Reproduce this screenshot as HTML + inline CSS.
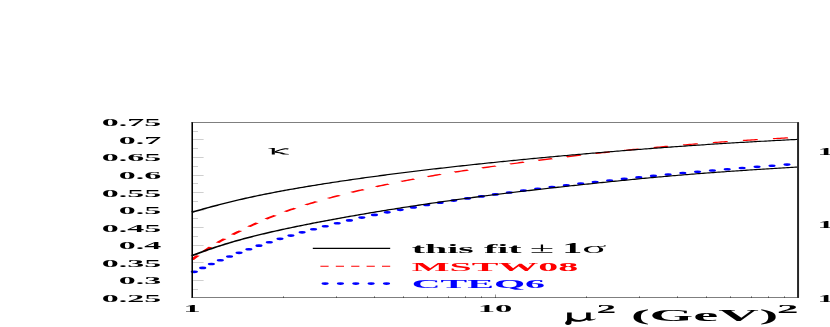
<!DOCTYPE html><html><head><meta charset="utf-8"><title>kappa</title><style>html,body{margin:0;padding:0;background:#fff}svg{display:block;will-change:transform}text{font-family:"Liberation Serif",serif;font-weight:bold}.n{font-weight:normal}</style></head><body>
<svg width="830" height="327" viewBox="0 0 830 327">
<rect width="830" height="327" fill="#fff"/>
<line x1="193.1" x2="198" y1="131.50" y2="131.50" stroke="#cfcfcf" stroke-width="1"/>
<line x1="193.1" x2="203.6" y1="139.50" y2="139.50" stroke="#cfcfcf" stroke-width="1"/>
<line x1="193.1" x2="198" y1="148.50" y2="148.50" stroke="#cfcfcf" stroke-width="1"/>
<line x1="193.1" x2="203.6" y1="157.50" y2="157.50" stroke="#cfcfcf" stroke-width="1"/>
<line x1="193.1" x2="198" y1="166.50" y2="166.50" stroke="#cfcfcf" stroke-width="1"/>
<line x1="193.1" x2="203.6" y1="175.50" y2="175.50" stroke="#cfcfcf" stroke-width="1"/>
<line x1="193.1" x2="198" y1="183.50" y2="183.50" stroke="#cfcfcf" stroke-width="1"/>
<line x1="193.1" x2="203.6" y1="192.50" y2="192.50" stroke="#cfcfcf" stroke-width="1"/>
<line x1="193.1" x2="198" y1="201.50" y2="201.50" stroke="#cfcfcf" stroke-width="1"/>
<line x1="193.1" x2="203.6" y1="210.50" y2="210.50" stroke="#cfcfcf" stroke-width="1"/>
<line x1="193.1" x2="198" y1="218.50" y2="218.50" stroke="#cfcfcf" stroke-width="1"/>
<line x1="193.1" x2="203.6" y1="227.50" y2="227.50" stroke="#cfcfcf" stroke-width="1"/>
<line x1="193.1" x2="198" y1="236.50" y2="236.50" stroke="#cfcfcf" stroke-width="1"/>
<line x1="193.1" x2="203.6" y1="245.50" y2="245.50" stroke="#cfcfcf" stroke-width="1"/>
<line x1="193.1" x2="198" y1="254.50" y2="254.50" stroke="#cfcfcf" stroke-width="1"/>
<line x1="193.1" x2="203.6" y1="262.50" y2="262.50" stroke="#cfcfcf" stroke-width="1"/>
<line x1="193.1" x2="198" y1="271.50" y2="271.50" stroke="#cfcfcf" stroke-width="1"/>
<line x1="193.1" x2="203.6" y1="280.50" y2="280.50" stroke="#cfcfcf" stroke-width="1"/>
<line x1="193.1" x2="198" y1="289.50" y2="289.50" stroke="#cfcfcf" stroke-width="1"/>
<line x1="283.50" x2="283.50" y1="296.10" y2="298" stroke="#000" stroke-opacity="0.42" stroke-width="1"/>
<line x1="336.50" x2="336.50" y1="296.10" y2="298" stroke="#000" stroke-opacity="0.42" stroke-width="1"/>
<line x1="374.50" x2="374.50" y1="296.10" y2="298" stroke="#000" stroke-opacity="0.42" stroke-width="1"/>
<line x1="403.50" x2="403.50" y1="296.10" y2="298" stroke="#000" stroke-opacity="0.42" stroke-width="1"/>
<line x1="427.50" x2="427.50" y1="296.10" y2="298" stroke="#000" stroke-opacity="0.42" stroke-width="1"/>
<line x1="448.50" x2="448.50" y1="296.10" y2="298" stroke="#000" stroke-opacity="0.42" stroke-width="1"/>
<line x1="465.50" x2="465.50" y1="296.10" y2="298" stroke="#000" stroke-opacity="0.42" stroke-width="1"/>
<line x1="481.50" x2="481.50" y1="296.10" y2="298" stroke="#000" stroke-opacity="0.42" stroke-width="1"/>
<line x1="495.50" x2="495.50" y1="294.50" y2="298" stroke="#000" stroke-opacity="0.42" stroke-width="1"/>
<line x1="586.50" x2="586.50" y1="296.10" y2="298" stroke="#000" stroke-opacity="0.42" stroke-width="1"/>
<line x1="639.50" x2="639.50" y1="296.10" y2="298" stroke="#000" stroke-opacity="0.42" stroke-width="1"/>
<line x1="677.50" x2="677.50" y1="296.10" y2="298" stroke="#000" stroke-opacity="0.42" stroke-width="1"/>
<line x1="706.50" x2="706.50" y1="296.10" y2="298" stroke="#000" stroke-opacity="0.42" stroke-width="1"/>
<line x1="730.50" x2="730.50" y1="296.10" y2="298" stroke="#000" stroke-opacity="0.42" stroke-width="1"/>
<line x1="751.50" x2="751.50" y1="296.10" y2="298" stroke="#000" stroke-opacity="0.42" stroke-width="1"/>
<line x1="768.50" x2="768.50" y1="296.10" y2="298" stroke="#000" stroke-opacity="0.42" stroke-width="1"/>
<line x1="784.50" x2="784.50" y1="296.10" y2="298" stroke="#000" stroke-opacity="0.42" stroke-width="1"/>
<ellipse cx="194.30" cy="271.83" rx="3.6" ry="1.32" fill="#00f"/>
<ellipse cx="202.70" cy="267.91" rx="3.6" ry="1.32" fill="#00f"/>
<ellipse cx="211.37" cy="264.05" rx="3.6" ry="1.32" fill="#00f"/>
<ellipse cx="220.32" cy="260.25" rx="3.6" ry="1.32" fill="#00f"/>
<ellipse cx="229.55" cy="256.51" rx="3.6" ry="1.32" fill="#00f"/>
<ellipse cx="239.07" cy="252.83" rx="3.6" ry="1.32" fill="#00f"/>
<ellipse cx="248.87" cy="249.23" rx="3.6" ry="1.32" fill="#00f"/>
<ellipse cx="258.96" cy="245.69" rx="3.6" ry="1.32" fill="#00f"/>
<ellipse cx="269.33" cy="242.24" rx="3.6" ry="1.32" fill="#00f"/>
<ellipse cx="279.98" cy="238.86" rx="3.6" ry="1.32" fill="#00f"/>
<ellipse cx="290.91" cy="235.57" rx="3.6" ry="1.32" fill="#00f"/>
<ellipse cx="302.11" cy="232.36" rx="3.6" ry="1.32" fill="#00f"/>
<ellipse cx="313.57" cy="229.24" rx="3.6" ry="1.32" fill="#00f"/>
<ellipse cx="325.28" cy="226.20" rx="3.6" ry="1.32" fill="#00f"/>
<ellipse cx="337.23" cy="223.25" rx="3.6" ry="1.32" fill="#00f"/>
<ellipse cx="349.42" cy="220.39" rx="3.6" ry="1.32" fill="#00f"/>
<ellipse cx="361.83" cy="217.62" rx="3.6" ry="1.32" fill="#00f"/>
<ellipse cx="374.44" cy="214.93" rx="3.6" ry="1.32" fill="#00f"/>
<ellipse cx="387.24" cy="212.33" rx="3.6" ry="1.32" fill="#00f"/>
<ellipse cx="400.24" cy="209.82" rx="3.6" ry="1.32" fill="#00f"/>
<ellipse cx="413.40" cy="207.39" rx="3.6" ry="1.32" fill="#00f"/>
<ellipse cx="426.72" cy="205.04" rx="3.6" ry="1.32" fill="#00f"/>
<ellipse cx="440.18" cy="202.76" rx="3.6" ry="1.32" fill="#00f"/>
<ellipse cx="453.78" cy="200.57" rx="3.6" ry="1.32" fill="#00f"/>
<ellipse cx="467.51" cy="198.44" rx="3.6" ry="1.32" fill="#00f"/>
<ellipse cx="481.35" cy="196.39" rx="3.6" ry="1.32" fill="#00f"/>
<ellipse cx="495.30" cy="194.40" rx="3.6" ry="1.32" fill="#00f"/>
<ellipse cx="509.34" cy="192.47" rx="3.6" ry="1.32" fill="#00f"/>
<ellipse cx="523.47" cy="190.60" rx="3.6" ry="1.32" fill="#00f"/>
<ellipse cx="537.68" cy="188.79" rx="3.6" ry="1.32" fill="#00f"/>
<ellipse cx="551.95" cy="187.03" rx="3.6" ry="1.32" fill="#00f"/>
<ellipse cx="566.30" cy="185.32" rx="3.6" ry="1.32" fill="#00f"/>
<ellipse cx="580.70" cy="183.65" rx="3.6" ry="1.32" fill="#00f"/>
<ellipse cx="595.15" cy="182.03" rx="3.6" ry="1.32" fill="#00f"/>
<ellipse cx="609.65" cy="180.45" rx="3.6" ry="1.32" fill="#00f"/>
<ellipse cx="624.20" cy="178.90" rx="3.6" ry="1.32" fill="#00f"/>
<ellipse cx="638.79" cy="177.40" rx="3.6" ry="1.32" fill="#00f"/>
<ellipse cx="653.42" cy="175.93" rx="3.6" ry="1.32" fill="#00f"/>
<ellipse cx="668.10" cy="174.50" rx="3.6" ry="1.32" fill="#00f"/>
<ellipse cx="682.81" cy="173.11" rx="3.6" ry="1.32" fill="#00f"/>
<ellipse cx="697.57" cy="171.76" rx="3.6" ry="1.32" fill="#00f"/>
<ellipse cx="712.37" cy="170.46" rx="3.6" ry="1.32" fill="#00f"/>
<ellipse cx="727.22" cy="169.20" rx="3.6" ry="1.32" fill="#00f"/>
<ellipse cx="742.12" cy="168.00" rx="3.6" ry="1.32" fill="#00f"/>
<ellipse cx="757.05" cy="166.85" rx="3.6" ry="1.32" fill="#00f"/>
<ellipse cx="772.01" cy="165.72" rx="3.6" ry="1.32" fill="#00f"/>
<ellipse cx="786.98" cy="164.60" rx="3.6" ry="1.32" fill="#00f"/>
<ellipse cx="325.10" cy="283.6" rx="3.6" ry="1.32" fill="#00f"/>
<ellipse cx="340.45" cy="283.6" rx="3.6" ry="1.32" fill="#00f"/>
<ellipse cx="355.80" cy="283.6" rx="3.6" ry="1.32" fill="#00f"/>
<ellipse cx="371.15" cy="283.6" rx="3.6" ry="1.32" fill="#00f"/>
<ellipse cx="386.50" cy="283.6" rx="3.6" ry="1.32" fill="#00f"/>
<clipPath id="cr"><rect x="191.6" y="100" width="620" height="220"/></clipPath><g clip-path="url(#cr)"><g transform="scale(3.3,1)" fill="none"><path d="M58.182 259.685 L58.788 258.253 L59.394 256.838 L60.000 255.437 L60.606 254.048 L61.212 252.672 L61.818 251.310 L62.424 249.966 L63.030 248.644 L63.636 247.346 L64.242 246.077 L64.848 244.839 L65.455 243.632 L66.061 242.457 L66.667 241.312 L67.273 240.195 L67.879 239.103 L68.485 238.033 L69.091 236.983 L69.697 235.949 L70.303 234.930 L70.909 233.922 L71.515 232.925 L72.121 231.937 L72.727 230.957 L73.333 229.985 L73.939 229.020 L74.545 228.063 L75.152 227.114 L75.758 226.173 L76.364 225.242 L76.970 224.320 L77.576 223.409 L78.182 222.509 L78.788 221.621 L79.394 220.746 L80.000 219.884 L80.606 219.036 L81.212 218.202 L81.818 217.383 L82.424 216.578 L83.030 215.788 L83.636 215.012 L84.242 214.249 L84.848 213.501 L85.455 212.765 L86.061 212.043 L86.667 211.332 L87.273 210.633 L87.879 209.945 L88.485 209.268 L89.091 208.600 L89.697 207.942 L90.303 207.294 L90.909 206.654 L91.515 206.022 L92.121 205.398 L92.727 204.782 L93.333 204.173 L93.939 203.571 L94.545 202.976 L95.152 202.388 L95.758 201.806 L96.364 201.230 L96.970 200.660 L97.576 200.096 L98.182 199.538 L98.788 198.986 L99.394 198.439 L100.000 197.897 L100.606 197.360 L101.212 196.829 L101.818 196.303 L102.424 195.781 L103.030 195.265 L103.636 194.753 L104.242 194.246 L104.848 193.744 L105.455 193.246 L106.061 192.753 L106.667 192.264 L107.273 191.780 L107.879 191.299 L108.485 190.823 L109.091 190.352 L109.697 189.884 L110.303 189.421 L110.909 188.961 L111.515 188.506 L112.121 188.054 L112.727 187.607 L113.333 187.163 L113.939 186.723 L114.545 186.287 L115.152 185.855 L115.758 185.427 L116.364 185.002 L116.970 184.581 L117.576 184.164 L118.182 183.750 L118.788 183.340 L119.394 182.934 L120.000 182.531 L120.606 182.131 L121.212 181.735 L121.818 181.342 L122.424 180.953 L123.030 180.567 L123.636 180.185 L124.242 179.805 L124.848 179.429 L125.455 179.057 L126.061 178.687 L126.667 178.320 L127.273 177.957 L127.879 177.596 L128.485 177.239 L129.091 176.885 L129.697 176.533 L130.303 176.184 L130.909 175.838 L131.515 175.495 L132.121 175.155 L132.727 174.817 L133.333 174.482 L133.939 174.149 L134.545 173.819 L135.152 173.492 L135.758 173.167 L136.364 172.844 L136.970 172.523 L137.576 172.205 L138.182 171.889 L138.788 171.575 L139.394 171.263 L140.000 170.954 L140.606 170.646 L141.212 170.340 L141.818 170.036 L142.424 169.734 L143.030 169.434 L143.636 169.136 L144.242 168.839 L144.848 168.544 L145.455 168.251 L146.061 167.959 L146.667 167.669 L147.273 167.381 L147.879 167.094 L148.485 166.808 L149.091 166.524 L149.697 166.242 L150.303 165.960 L150.909 165.681 L151.515 165.402 L152.121 165.125 L152.727 164.849 L153.333 164.574 L153.939 164.301 L154.545 164.029 L155.152 163.758 L155.758 163.488 L156.364 163.220 L156.970 162.952 L157.576 162.686 L158.182 162.421 L158.788 162.158 L159.394 161.895 L160.000 161.633 L160.606 161.373 L161.212 161.114 L161.818 160.856 L162.424 160.599 L163.030 160.343 L163.636 160.089 L164.242 159.835 L164.848 159.583 L165.455 159.332 L166.061 159.082 L166.667 158.833 L167.273 158.585 L167.879 158.338 L168.485 158.093 L169.091 157.849 L169.697 157.606 L170.303 157.364 L170.909 157.123 L171.515 156.883 L172.121 156.645 L172.727 156.407 L173.333 156.171 L173.939 155.936 L174.545 155.703 L175.152 155.470 L175.758 155.239 L176.364 155.008 L176.970 154.780 L177.576 154.552 L178.182 154.325 L178.788 154.100 L179.394 153.876 L180.000 153.653 L180.606 153.431 L181.212 153.211 L181.818 152.991 L182.424 152.773 L183.030 152.557 L183.636 152.341 L184.242 152.127 L184.848 151.914 L185.455 151.702 L186.061 151.491 L186.667 151.282 L187.273 151.074 L187.879 150.867 L188.485 150.661 L189.091 150.456 L189.697 150.253 L190.303 150.051 L190.909 149.850 L191.515 149.651 L192.121 149.453 L192.727 149.256 L193.333 149.060 L193.939 148.865 L194.545 148.672 L195.152 148.480 L195.758 148.289 L196.364 148.099 L196.970 147.911 L197.576 147.724 L198.182 147.538 L198.788 147.353 L199.394 147.169 L200.000 146.987 L200.606 146.806 L201.212 146.626 L201.818 146.448 L202.424 146.271 L203.030 146.094 L203.636 145.920 L204.242 145.746 L204.848 145.574 L205.455 145.402 L206.061 145.232 L206.667 145.064 L207.273 144.896 L207.879 144.730 L208.485 144.565 L209.091 144.401 L209.697 144.238 L210.303 144.077 L210.909 143.917 L211.515 143.758 L212.121 143.600 L212.727 143.443 L213.333 143.288 L213.939 143.134 L214.545 142.981 L215.152 142.829 L215.758 142.679 L216.364 142.530 L216.970 142.382 L217.576 142.235 L218.182 142.089 L218.788 141.945 L219.394 141.802 L220.000 141.660 L220.606 141.519 L221.212 141.379 L221.818 141.241 L222.424 141.104 L223.030 140.968 L223.636 140.833 L224.242 140.700 L224.848 140.568 L225.455 140.436 L226.061 140.307 L226.667 140.178 L227.273 140.050 L227.879 139.924 L228.485 139.799 L229.091 139.675 L229.697 139.553 L230.303 139.431 L230.909 139.311 L231.515 139.192 L232.121 139.074 L232.727 138.958 L233.333 138.842 L233.939 138.728 L234.545 138.615 L235.152 138.503 L235.758 138.393 L236.364 138.283 L236.970 138.175 L237.576 138.068 L238.182 137.962 L238.788 137.858 L239.394 137.754" stroke="#f00" stroke-width="1.25" stroke-dasharray="4.6 4.718" stroke-dashoffset="0.02"/></g></g>
<g transform="scale(3.3,1)" fill="none">
<path d="M58.182 212.224 L58.796 211.637 L59.410 211.054 L60.024 210.475 L60.638 209.900 L61.253 209.329 L61.867 208.763 L62.481 208.200 L63.095 207.642 L63.709 207.088 L64.324 206.538 L64.938 205.994 L65.552 205.454 L66.166 204.920 L66.780 204.391 L67.394 203.868 L68.009 203.350 L68.623 202.838 L69.237 202.332 L69.851 201.832 L70.465 201.338 L71.079 200.850 L71.694 200.368 L72.308 199.892 L72.922 199.422 L73.536 198.958 L74.150 198.500 L74.764 198.047 L75.379 197.600 L75.993 197.159 L76.607 196.723 L77.221 196.292 L77.835 195.866 L78.449 195.445 L79.064 195.028 L79.678 194.616 L80.292 194.209 L80.906 193.806 L81.520 193.406 L82.134 193.011 L82.749 192.620 L83.363 192.232 L83.977 191.848 L84.591 191.468 L85.205 191.091 L85.819 190.717 L86.434 190.347 L87.048 189.979 L87.662 189.615 L88.276 189.254 L88.890 188.896 L89.504 188.540 L90.119 188.188 L90.733 187.838 L91.347 187.491 L91.961 187.146 L92.575 186.804 L93.189 186.465 L93.804 186.128 L94.418 185.794 L95.032 185.462 L95.646 185.133 L96.260 184.805 L96.874 184.481 L97.489 184.158 L98.103 183.838 L98.717 183.519 L99.331 183.203 L99.945 182.889 L100.559 182.578 L101.174 182.268 L101.788 181.960 L102.402 181.654 L103.016 181.351 L103.630 181.049 L104.244 180.749 L104.859 180.451 L105.473 180.155 L106.087 179.860 L106.701 179.568 L107.315 179.277 L107.929 178.988 L108.544 178.700 L109.158 178.415 L109.772 178.131 L110.386 177.848 L111.000 177.568 L111.614 177.288 L112.229 177.011 L112.843 176.735 L113.457 176.460 L114.071 176.187 L114.685 175.916 L115.299 175.646 L115.914 175.377 L116.528 175.110 L117.142 174.845 L117.756 174.580 L118.370 174.317 L118.984 174.056 L119.599 173.796 L120.213 173.537 L120.827 173.279 L121.441 173.023 L122.055 172.768 L122.670 172.514 L123.284 172.262 L123.898 172.011 L124.512 171.761 L125.126 171.512 L125.740 171.264 L126.355 171.018 L126.969 170.773 L127.583 170.529 L128.197 170.286 L128.811 170.044 L129.425 169.803 L130.040 169.564 L130.654 169.325 L131.268 169.088 L131.882 168.852 L132.496 168.616 L133.110 168.382 L133.725 168.149 L134.339 167.917 L134.953 167.686 L135.567 167.456 L136.181 167.227 L136.795 166.999 L137.410 166.772 L138.024 166.546 L138.638 166.321 L139.252 166.097 L139.866 165.873 L140.480 165.651 L141.095 165.430 L141.709 165.210 L142.323 164.990 L142.937 164.772 L143.551 164.554 L144.165 164.337 L144.780 164.122 L145.394 163.907 L146.008 163.693 L146.622 163.479 L147.236 163.267 L147.850 163.056 L148.465 162.845 L149.079 162.635 L149.693 162.427 L150.307 162.219 L150.921 162.011 L151.535 161.805 L152.150 161.600 L152.764 161.395 L153.378 161.191 L153.992 160.988 L154.606 160.786 L155.220 160.584 L155.835 160.383 L156.449 160.184 L157.063 159.984 L157.677 159.786 L158.291 159.589 L158.905 159.392 L159.520 159.196 L160.134 159.001 L160.748 158.806 L161.362 158.612 L161.976 158.419 L162.590 158.227 L163.205 158.036 L163.819 157.845 L164.433 157.655 L165.047 157.466 L165.661 157.277 L166.275 157.090 L166.890 156.903 L167.504 156.716 L168.118 156.531 L168.732 156.346 L169.346 156.162 L169.960 155.978 L170.575 155.795 L171.189 155.613 L171.803 155.432 L172.417 155.252 L173.031 155.072 L173.645 154.892 L174.260 154.714 L174.874 154.536 L175.488 154.359 L176.102 154.182 L176.716 154.007 L177.330 153.832 L177.945 153.657 L178.559 153.483 L179.173 153.310 L179.787 153.138 L180.401 152.966 L181.016 152.795 L181.630 152.625 L182.244 152.455 L182.858 152.286 L183.472 152.118 L184.086 151.950 L184.701 151.783 L185.315 151.617 L185.929 151.451 L186.543 151.286 L187.157 151.122 L187.771 150.958 L188.386 150.795 L189.000 150.633 L189.614 150.471 L190.228 150.310 L190.842 150.149 L191.456 149.989 L192.071 149.830 L192.685 149.672 L193.299 149.514 L193.913 149.357 L194.527 149.200 L195.141 149.044 L195.756 148.889 L196.370 148.734 L196.984 148.580 L197.598 148.427 L198.212 148.274 L198.826 148.122 L199.441 147.971 L200.055 147.820 L200.669 147.670 L201.283 147.521 L201.897 147.372 L202.511 147.224 L203.126 147.077 L203.740 146.931 L204.354 146.785 L204.968 146.640 L205.582 146.495 L206.196 146.351 L206.811 146.208 L207.425 146.066 L208.039 145.925 L208.653 145.784 L209.267 145.644 L209.881 145.505 L210.496 145.367 L211.110 145.229 L211.724 145.092 L212.338 144.957 L212.952 144.822 L213.566 144.688 L214.181 144.554 L214.795 144.422 L215.409 144.291 L216.023 144.160 L216.637 144.031 L217.251 143.902 L217.866 143.774 L218.480 143.648 L219.094 143.522 L219.708 143.397 L220.322 143.274 L220.936 143.151 L221.551 143.029 L222.165 142.908 L222.779 142.788 L223.393 142.669 L224.007 142.551 L224.621 142.433 L225.236 142.317 L225.850 142.201 L226.464 142.087 L227.078 141.973 L227.692 141.859 L228.306 141.747 L228.921 141.635 L229.535 141.524 L230.149 141.413 L230.763 141.303 L231.377 141.193 L231.991 141.084 L232.606 140.975 L233.220 140.866 L233.834 140.757 L234.448 140.649 L235.062 140.541 L235.676 140.433 L236.291 140.325 L236.905 140.217 L237.519 140.109 L238.133 140.001 L238.747 139.893 L239.362 139.784 L239.976 139.676 L240.590 139.567 L241.204 139.458 L241.818 139.349" stroke="#000" stroke-width="1.15"/>
<path d="M58.182 255.625 L58.796 254.852 L59.410 254.090 L60.024 253.338 L60.638 252.595 L61.253 251.862 L61.867 251.138 L62.481 250.423 L63.095 249.717 L63.709 249.020 L64.324 248.332 L64.938 247.653 L65.552 246.983 L66.166 246.321 L66.780 245.669 L67.394 245.026 L68.009 244.392 L68.623 243.768 L69.237 243.152 L69.851 242.545 L70.465 241.947 L71.079 241.358 L71.694 240.777 L72.308 240.205 L72.922 239.642 L73.536 239.087 L74.150 238.539 L74.764 237.999 L75.379 237.467 L75.993 236.942 L76.607 236.424 L77.221 235.913 L77.835 235.409 L78.449 234.910 L79.064 234.418 L79.678 233.931 L80.292 233.450 L80.906 232.974 L81.520 232.503 L82.134 232.037 L82.749 231.575 L83.363 231.118 L83.977 230.666 L84.591 230.217 L85.205 229.773 L85.819 229.332 L86.434 228.895 L87.048 228.462 L87.662 228.032 L88.276 227.605 L88.890 227.182 L89.504 226.762 L90.119 226.345 L90.733 225.930 L91.347 225.519 L91.961 225.111 L92.575 224.705 L93.189 224.302 L93.804 223.901 L94.418 223.503 L95.032 223.108 L95.646 222.715 L96.260 222.324 L96.874 221.935 L97.489 221.549 L98.103 221.165 L98.717 220.784 L99.331 220.404 L99.945 220.026 L100.559 219.651 L101.174 219.277 L101.788 218.906 L102.402 218.536 L103.016 218.169 L103.630 217.803 L104.244 217.439 L104.859 217.077 L105.473 216.717 L106.087 216.358 L106.701 216.001 L107.315 215.646 L107.929 215.293 L108.544 214.941 L109.158 214.592 L109.772 214.243 L110.386 213.897 L111.000 213.552 L111.614 213.208 L112.229 212.866 L112.843 212.526 L113.457 212.188 L114.071 211.850 L114.685 211.515 L115.299 211.181 L115.914 210.848 L116.528 210.517 L117.142 210.188 L117.756 209.860 L118.370 209.534 L118.984 209.209 L119.599 208.885 L120.213 208.563 L120.827 208.243 L121.441 207.924 L122.055 207.606 L122.670 207.290 L123.284 206.975 L123.898 206.662 L124.512 206.350 L125.126 206.040 L125.740 205.731 L126.355 205.424 L126.969 205.118 L127.583 204.813 L128.197 204.510 L128.811 204.208 L129.425 203.908 L130.040 203.609 L130.654 203.311 L131.268 203.015 L131.882 202.721 L132.496 202.427 L133.110 202.135 L133.725 201.845 L134.339 201.556 L134.953 201.268 L135.567 200.982 L136.181 200.697 L136.795 200.413 L137.410 200.131 L138.024 199.850 L138.638 199.571 L139.252 199.293 L139.866 199.016 L140.480 198.741 L141.095 198.467 L141.709 198.194 L142.323 197.923 L142.937 197.653 L143.551 197.384 L144.165 197.116 L144.780 196.850 L145.394 196.585 L146.008 196.322 L146.622 196.060 L147.236 195.799 L147.850 195.539 L148.465 195.280 L149.079 195.023 L149.693 194.767 L150.307 194.512 L150.921 194.259 L151.535 194.006 L152.150 193.755 L152.764 193.505 L153.378 193.256 L153.992 193.009 L154.606 192.762 L155.220 192.517 L155.835 192.272 L156.449 192.029 L157.063 191.787 L157.677 191.546 L158.291 191.306 L158.905 191.068 L159.520 190.830 L160.134 190.593 L160.748 190.357 L161.362 190.123 L161.976 189.889 L162.590 189.656 L163.205 189.424 L163.819 189.193 L164.433 188.964 L165.047 188.734 L165.661 188.506 L166.275 188.279 L166.890 188.053 L167.504 187.827 L168.118 187.602 L168.732 187.378 L169.346 187.155 L169.960 186.932 L170.575 186.710 L171.189 186.489 L171.803 186.269 L172.417 186.049 L173.031 185.830 L173.645 185.612 L174.260 185.394 L174.874 185.177 L175.488 184.960 L176.102 184.744 L176.716 184.529 L177.330 184.314 L177.945 184.100 L178.559 183.886 L179.173 183.673 L179.787 183.460 L180.401 183.248 L181.016 183.037 L181.630 182.826 L182.244 182.615 L182.858 182.405 L183.472 182.196 L184.086 181.987 L184.701 181.779 L185.315 181.572 L185.929 181.365 L186.543 181.159 L187.157 180.953 L187.771 180.749 L188.386 180.545 L189.000 180.342 L189.614 180.139 L190.228 179.938 L190.842 179.737 L191.456 179.538 L192.071 179.339 L192.685 179.142 L193.299 178.946 L193.913 178.750 L194.527 178.556 L195.141 178.363 L195.756 178.171 L196.370 177.981 L196.984 177.791 L197.598 177.603 L198.212 177.416 L198.826 177.231 L199.441 177.047 L200.055 176.864 L200.669 176.683 L201.283 176.503 L201.897 176.324 L202.511 176.147 L203.126 175.971 L203.740 175.796 L204.354 175.623 L204.968 175.451 L205.582 175.281 L206.196 175.112 L206.811 174.944 L207.425 174.777 L208.039 174.612 L208.653 174.448 L209.267 174.285 L209.881 174.123 L210.496 173.963 L211.110 173.804 L211.724 173.646 L212.338 173.489 L212.952 173.333 L213.566 173.179 L214.181 173.025 L214.795 172.873 L215.409 172.722 L216.023 172.571 L216.637 172.422 L217.251 172.275 L217.866 172.128 L218.480 171.982 L219.094 171.837 L219.708 171.694 L220.322 171.551 L220.936 171.410 L221.551 171.270 L222.165 171.130 L222.779 170.992 L223.393 170.855 L224.007 170.719 L224.621 170.583 L225.236 170.449 L225.850 170.316 L226.464 170.183 L227.078 170.051 L227.692 169.920 L228.306 169.790 L228.921 169.661 L229.535 169.532 L230.149 169.404 L230.763 169.276 L231.377 169.149 L231.991 169.022 L232.606 168.896 L233.220 168.769 L233.834 168.644 L234.448 168.518 L235.062 168.392 L235.676 168.266 L236.291 168.141 L236.905 168.015 L237.519 167.889 L238.133 167.763 L238.747 167.637 L239.362 167.511 L239.976 167.384 L240.590 167.257 L241.204 167.130 L241.818 167.002" stroke="#000" stroke-width="1.15"/>
<path d="M94.788 248.4 L118.242 248.4" stroke="#000" stroke-width="1.1"/>
<path d="M118.242 266.2 L95.152 266.2" stroke="#f00" stroke-width="1.1" stroke-dasharray="2.485 2.182"/>
<path d="M58.000 122.50 L242.121 122.50" stroke="#000" stroke-width="0.5"/>
<path d="M58.000 297.50 L242.121 297.50" stroke="#000" stroke-width="0.66"/>
<path d="M58.248 122.25 L58.248 297.83" stroke="#000" stroke-width="0.473"/>
<path d="M241.833 122.25 L241.833 297.83" stroke="#262626" stroke-width="0.606"/>
</g>
<text transform="translate(161.30 126.30) scale(3.240 1)" font-size="10.50" text-anchor="end" fill="#000">0.75</text>
<text transform="translate(161.30 143.85) scale(3.240 1)" font-size="10.50" text-anchor="end" fill="#000">0.7</text>
<text transform="translate(161.30 161.40) scale(3.240 1)" font-size="10.50" text-anchor="end" fill="#000">0.65</text>
<text transform="translate(161.30 178.95) scale(3.240 1)" font-size="10.50" text-anchor="end" fill="#000">0.6</text>
<text transform="translate(161.30 196.50) scale(3.240 1)" font-size="10.50" text-anchor="end" fill="#000">0.55</text>
<text transform="translate(161.30 214.05) scale(3.240 1)" font-size="10.50" text-anchor="end" fill="#000">0.5</text>
<text transform="translate(161.30 231.60) scale(3.240 1)" font-size="10.50" text-anchor="end" fill="#000">0.45</text>
<text transform="translate(161.30 249.15) scale(3.240 1)" font-size="10.50" text-anchor="end" fill="#000">0.4</text>
<text transform="translate(161.30 266.70) scale(3.240 1)" font-size="10.50" text-anchor="end" fill="#000">0.35</text>
<text transform="translate(161.30 284.25) scale(3.240 1)" font-size="10.50" text-anchor="end" fill="#000">0.3</text>
<text transform="translate(161.30 301.80) scale(3.240 1)" font-size="10.50" text-anchor="end" fill="#000">0.25</text>
<text transform="translate(192.00 312.00) scale(3.100 1)" font-size="11.20" text-anchor="middle" fill="#000">1</text>
<text transform="translate(495.00 312.00) scale(3.100 1)" font-size="11.20" text-anchor="middle" fill="#000">10</text>
<text transform="translate(817.40 154.50) scale(3.200 1)" font-size="10.20" text-anchor="start" fill="#000">1</text>
<text transform="translate(817.40 227.70) scale(3.200 1)" font-size="10.20" text-anchor="start" fill="#000">1</text>
<text transform="translate(817.40 301.60) scale(3.200 1)" font-size="10.20" text-anchor="start" fill="#000">1</text>
<text transform="translate(411.70 252.75) scale(3.075 1)" font-size="13.00" text-anchor="start" fill="#000">this fit <tspan class="n" font-size="14.5" dx="-0.6">±</tspan></text>
<text transform="translate(562.30 252.80) scale(2.920 1)" font-size="13.70" text-anchor="start" fill="#000">1</text>
<text transform="translate(582.20 252.90) scale(3.100 1)" font-size="14.50" text-anchor="start" fill="#000" class="n">σ</text>
<text transform="translate(411.70 270.90) scale(3.075 1)" font-size="13.00" text-anchor="start" fill="#f00">MSTW08</text>
<text transform="translate(411.70 287.95) scale(3.075 1)" font-size="13.00" text-anchor="start" fill="#00f">CTEQ6</text>
<g fill="#000"><path d="M268.2 148.75 L271.8 148.1 L274.8 148.1 L274.8 154.5 L271.8 154.5 L271.8 148.65 L268.3 149.05 Z"/><path d="M274.8 151.3 C278 150.2 281.5 149.0 284.8 148.35 C286.5 147.95 288.4 148.1 288.7 148.75 C288.8 149.4 287.2 149.6 285.4 149.3 C282.5 149.6 278.5 151.0 276.2 152.0 C279.9 151.55 283.2 152.5 285.8 153.8 L288.8 154.1 L288.8 154.6 L283.2 154.6 C280.6 153.5 278 152.6 274.8 152.7 Z"/></g>
<path fill="#000" d="M567.1 312.4 L571.7 312.4 L571.7 317.6 C573 319.4 576 319.9 579 319.9 C582.5 319.9 585 319.2 586.1 317.6 L586.1 312.4 L590.7 312.4 L590.7 318.4 C590.9 319.6 592.2 319.7 595.4 318.4 L595.7 319.1 C592 321 588.2 321.5 586.7 319.7 C584.5 321.1 581 321.7 577.5 321.7 C575 321.7 573 321.4 571.7 320.7 L571.5 322.2 C571.6 324 570 325 568 325 C566 325 564.8 324 565.2 322.6 C565.6 321.6 567.1 321 567.1 319.5 Z"/>
<text transform="translate(596.50 312.60) scale(3.200 1)" font-size="12.30" text-anchor="start" fill="#000">2</text>
<text transform="translate(630.90 321.20) scale(3.173 1)" font-size="17.70" text-anchor="start" fill="#000">(GeV</text>
<text transform="translate(759.60 321.20) scale(3.173 1)" font-size="17.70" text-anchor="start" fill="#000">)</text>
<text transform="translate(777.00 312.80) scale(3.250 1)" font-size="13.20" text-anchor="start" fill="#000">2</text>
</svg></body></html>
